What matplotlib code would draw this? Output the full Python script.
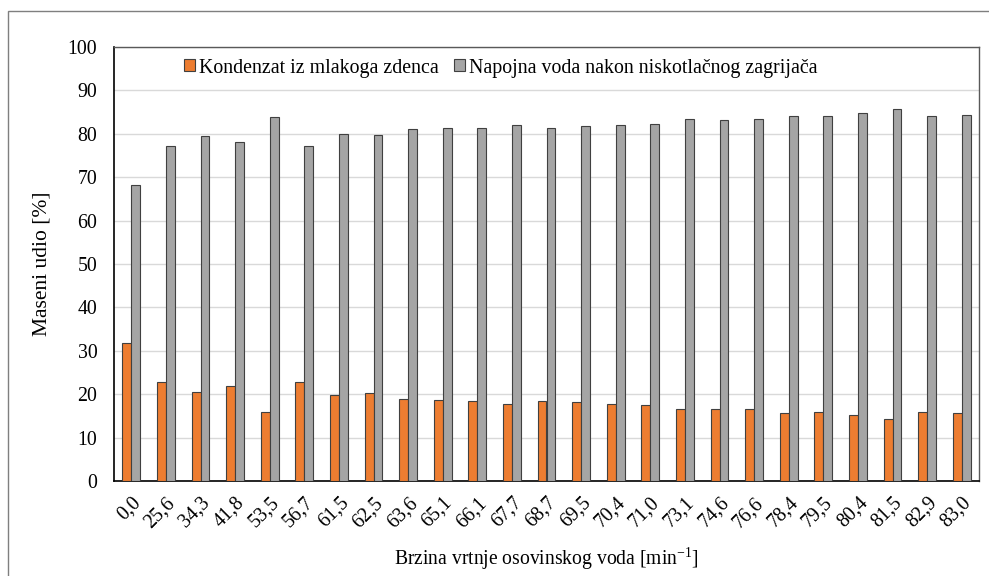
import numpy as np
import matplotlib
matplotlib.use("Agg")
import matplotlib.pyplot as plt
from matplotlib.patches import Rectangle

brzina = ["0,0", "25,6", "34,3", "41,8", "53,5", "56,7", "61,5", "62,5", "63,6",
          "65,1", "66,1", "67,7", "68,7", "69,5", "70,4", "71,0", "73,1", "74,6",
          "76,6", "78,4", "79,5", "80,4", "81,5", "82,9", "83,0"]
kondenzat = [31.7, 22.9, 20.6, 21.9, 16.0, 22.8, 19.8, 20.2, 19.0, 18.6, 18.4, 17.7,
             18.5, 18.3, 17.8, 17.6, 16.5, 16.7, 16.5, 15.6, 15.9, 15.1, 14.2, 15.8, 15.6]
napojna = [68.2, 77.1, 79.4, 78.0, 83.9, 77.1, 80.0, 79.8, 81.0, 81.4, 81.4, 82.1,
           81.4, 81.7, 82.1, 82.3, 83.3, 83.2, 83.5, 84.2, 84.0, 84.7, 85.7, 84.1, 84.4]

plt.rcParams["font.family"] = ["Liberation Serif", "DejaVu Serif"]

W, H = 989, 576
fig = plt.figure(figsize=(W / 100, H / 100), dpi=100)
ax = fig.add_axes([114 / W, 1 - 481 / H, (979 - 114) / W, (481 - 47) / H])

# okvir oko cijelog grafa
fig.patches.append(Rectangle((8 / W, -0.1), 1.2, 1.1 - 11 / H, transform=fig.transFigure,
                             fill=False, edgecolor="#7f7f7f", linewidth=1.0))

x = np.arange(len(brzina))
w = 0.26
ax.bar(x - w / 2, kondenzat, w, color="#ED7D31", edgecolor="#404040", linewidth=0.8,
       label="Kondenzat iz mlakoga zdenca", zorder=3)
ax.bar(x + w / 2, napojna, w, color="#A5A5A5", edgecolor="#404040", linewidth=0.8,
       label="Napojna voda nakon niskotlačnog zagrijača", zorder=3)

ax.set_xlim(-0.5, len(brzina) - 0.5)
ax.set_ylim(0, 100)
ax.set_yticks(np.arange(0, 101, 10))
ax.yaxis.grid(True, color="#d9d9d9", linewidth=1.0, zorder=0)
ax.set_xticks(x)
ax.set_xticklabels(brzina, rotation=45, ha="right", rotation_mode="anchor")
ax.tick_params(axis="both", length=0, labelsize=14.3)
ax.tick_params(axis="x", pad=9)
ax.tick_params(axis="y", pad=12)

for s in ["top", "right"]:
    ax.spines[s].set_color("#595959")
    ax.spines[s].set_linewidth(1.0)
for s in ["left", "bottom"]:
    ax.spines[s].set_color("black")
    ax.spines[s].set_linewidth(1.2)

ax.set_ylabel("Maseni udio [%]", fontsize=15.5, labelpad=12)
ax.set_xlabel("Brzina vrtnje osovinskog voda [min$^{\\mathregular{-1}}$]", fontsize=14.1, labelpad=10)

ax.legend(loc="center", bbox_to_anchor=(0.447, 1 - 21 / 434), ncol=2, frameon=False,
          fontsize=14.3, handlelength=0.55, handleheight=0.55, handletextpad=0.2,
          columnspacing=0.75, borderaxespad=0)

fig.savefig("out.png", dpi=100)
